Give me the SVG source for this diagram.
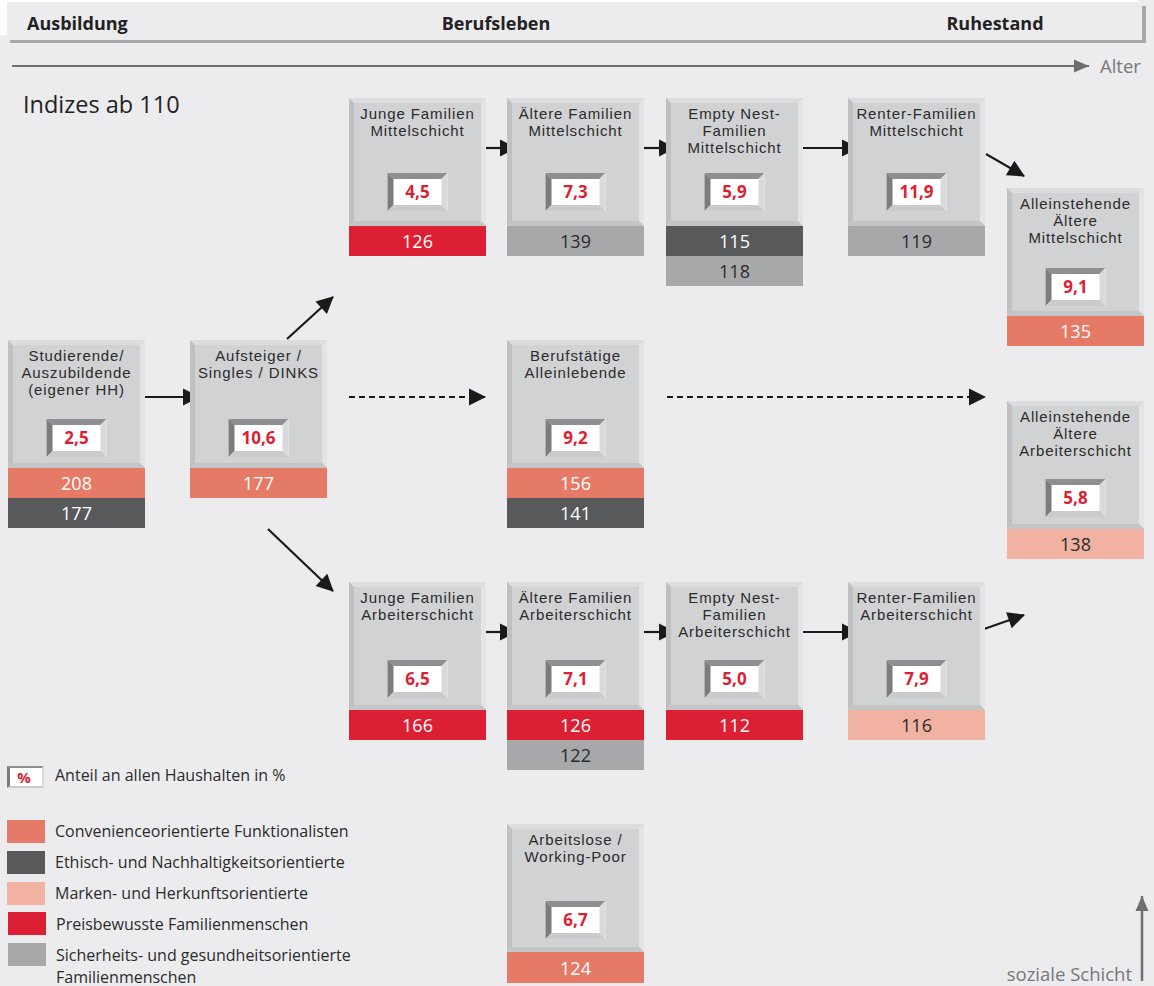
<svg xmlns="http://www.w3.org/2000/svg" xmlns:xlink="http://www.w3.org/1999/xlink" width="1154" height="986" viewBox="0 0 1154 986">
<style>
text{font-family:"Open Sans","Noto Sans","DejaVu Sans",sans-serif}
.hd{font-size:18px;font-weight:bold;fill:#222}
.t{font-family:"Liberation Sans",Arial,sans-serif;font-size:15px;letter-spacing:0.9px;fill:#2b2b2b;text-anchor:middle}
.v{font-size:17px;font-weight:bold;fill:#dc1f33;text-anchor:middle}
.b{font-size:18px;text-anchor:middle}
.bw{fill:#fff}
.bd{fill:#2b2b2b}
.lg{font-size:16px;fill:#2b2b2b}
.ax{font-size:18.5px;fill:#77787a}
.C{fill:#e57a66}.E{fill:#58595b}.M{fill:#f1b2a2}.P{fill:#dc1f33}.S{fill:#a7a8aa}
.ar{stroke:#1a1a1a;stroke-width:2.2;fill:none;marker-end:url(#ah)}
.ds{stroke-dasharray:6 4}
</style>
<defs>
<marker id="ah" markerUnits="userSpaceOnUse" markerWidth="17" markerHeight="17" refX="16" refY="8.5" orient="auto" overflow="visible"><path d="M0,0 L17,8.5 L0,17 z" fill="#1a1a1a"/></marker>
<marker id="ahg" markerUnits="userSpaceOnUse" markerWidth="15" markerHeight="13" refX="15" refY="6.5" orient="auto" overflow="visible"><path d="M0,0 L15,6.5 L0,13 z" fill="#6d6e70"/></marker>
<g id="box">
<rect width="137" height="128" fill="#d1d2d4"/>
<polygon points="0,0 137,0 132,5 5,5" fill="#dcdddf"/>
<polygon points="0,0 5,5 5,123 0,128" fill="#bfc0c2"/>
<polygon points="137,0 137,128 132,123 132,5" fill="#e3e4e6"/>
<polygon points="0,128 5,123 132,123 137,128" fill="#c4c5c7"/>
</g>
<g id="vb">
<rect width="60" height="38" fill="#fff"/>
<polygon points="0,0 60,0 54,6 6,6" fill="#8e8f91"/>
<polygon points="0,0 6,6 6,32 0,38" fill="#7b7c7e"/>
<polygon points="60,0 60,38 54,32 54,6" fill="#d9dadc"/>
<polygon points="0,38 6,32 54,32 60,38" fill="#cacbcd"/>
</g>
</defs>
<rect width="1154" height="986" fill="#ececee"/>
<g id="header">
<rect x="0" y="0" width="1138" height="2" fill="#fff"/>
<rect x="0" y="0" width="7" height="35" fill="#fff"/>
<rect x="10" y="40" width="1136" height="3" fill="#a8a8aa"/>
<rect x="1142" y="6" width="4" height="37" fill="#a8a8aa"/>
<text class="hd" x="27" y="30">Ausbildung</text>
<text class="hd" x="496" y="30" text-anchor="middle">Berufsleben</text>
<text class="hd" x="995" y="30" text-anchor="middle">Ruhestand</text>
</g>
<g id="axes">
<line x1="12" y1="66" x2="1089" y2="66" stroke="#6d6e70" stroke-width="2" marker-end="url(#ahg)"/>
<text class="ax" x="1100" y="73">Alter</text>
<line x1="1142" y1="981" x2="1142" y2="896" stroke="#6d6e70" stroke-width="2.5" marker-end="url(#ahg)"/>
<text class="ax" x="1132" y="981" text-anchor="end">soziale Schicht</text>
<text x="23" y="113" font-size="23.5" fill="#222">Indizes ab 110</text>
</g>
<g id="connectors">
<line class="ar" x1="145" y1="397" x2="199" y2="397"/>
<line class="ar" x1="287" y1="339" x2="333" y2="297"/>
<line class="ar" x1="268" y1="529" x2="333" y2="591"/>
<line class="ar ds" x1="349" y1="397" x2="485" y2="397"/>
<line class="ar ds" x1="667" y1="397" x2="985" y2="397"/>
<line class="ar" x1="486" y1="148" x2="516" y2="148"/>
<line class="ar" x1="644" y1="148" x2="675" y2="148"/>
<line class="ar" x1="803" y1="148" x2="858" y2="148"/>
<line class="ar" x1="986" y1="154" x2="1024" y2="176"/>
<line class="ar" x1="486" y1="632" x2="516" y2="632"/>
<line class="ar" x1="644" y1="632" x2="675" y2="632"/>
<line class="ar" x1="803" y1="632" x2="858" y2="632"/>
<line class="ar" x1="984" y1="629" x2="1024" y2="615"/>
</g>
<g id="n-studierende" transform="translate(8,340)">
<use href="#box"/><use href="#vb" x="38.5" y="79"/>
<text class="t" x="68.5" y="21">Studierende/</text><text class="t" x="68.5" y="38">Auszubildende</text><text class="t" x="68.5" y="55">(eigener HH)</text>
<text class="v" x="68.5" y="104">2,5</text>
<rect class="C" y="128" width="137" height="30"/><text class="b bw" x="68.5" y="150">208</text>
<rect class="E" y="158" width="137" height="30"/><text class="b bw" x="68.5" y="180">177</text>
</g>
<g id="n-aufsteiger" transform="translate(190,340)">
<use href="#box"/><use href="#vb" x="38.5" y="79"/>
<text class="t" x="68.5" y="21">Aufsteiger /</text><text class="t" x="68.5" y="38">Singles / DINKS</text>
<text class="v" x="68.5" y="104">10,6</text>
<rect class="C" y="128" width="137" height="30"/><text class="b bw" x="68.5" y="150">177</text>
</g>
<g id="n-junge-ms" transform="translate(349,98)">
<use href="#box"/><use href="#vb" x="38.5" y="75"/>
<text class="t" x="68.5" y="21">Junge Familien</text><text class="t" x="68.5" y="38">Mittelschicht</text>
<text class="v" x="68.5" y="100">4,5</text>
<rect class="P" y="128" width="137" height="30"/><text class="b bw" x="68.5" y="150">126</text>
</g>
<g id="n-aeltere-ms" transform="translate(507,98)">
<use href="#box"/><use href="#vb" x="38.5" y="75"/>
<text class="t" x="68.5" y="21">Ältere Familien</text><text class="t" x="68.5" y="38">Mittelschicht</text>
<text class="v" x="68.5" y="100">7,3</text>
<rect class="S" y="128" width="137" height="30"/><text class="b bd" x="68.5" y="150">139</text>
</g>
<g id="n-empty-ms" transform="translate(666,98)">
<use href="#box"/><use href="#vb" x="38.5" y="75"/>
<text class="t" x="68.5" y="21">Empty Nest-</text><text class="t" x="68.5" y="38">Familien</text><text class="t" x="68.5" y="55">Mittelschicht</text>
<text class="v" x="68.5" y="100">5,9</text>
<rect class="E" y="128" width="137" height="30"/><text class="b bw" x="68.5" y="150">115</text>
<rect class="S" y="158" width="137" height="30"/><text class="b bd" x="68.5" y="180">118</text>
</g>
<g id="n-renter-ms" transform="translate(848,98)">
<use href="#box"/><use href="#vb" x="38.5" y="75"/>
<text class="t" x="68.5" y="21">Renter-Familien</text><text class="t" x="68.5" y="38">Mittelschicht</text>
<text class="v" x="68.5" y="100">11,9</text>
<rect class="S" y="128" width="137" height="30"/><text class="b bd" x="68.5" y="150">119</text>
</g>
<g id="n-allein-ms" transform="translate(1007,188)">
<use href="#box"/><use href="#vb" x="38.5" y="80"/>
<text class="t" x="68.5" y="21">Alleinstehende</text><text class="t" x="68.5" y="38">Ältere</text><text class="t" x="68.5" y="55">Mittelschicht</text>
<text class="v" x="68.5" y="105">9,1</text>
<rect class="C" y="128" width="137" height="30"/><text class="b bw" x="68.5" y="150">135</text>
</g>
<g id="n-berufstaetige" transform="translate(507,340)">
<use href="#box"/><use href="#vb" x="38.5" y="79"/>
<text class="t" x="68.5" y="21">Berufstätige</text><text class="t" x="68.5" y="38">Alleinlebende</text>
<text class="v" x="68.5" y="104">9,2</text>
<rect class="C" y="128" width="137" height="30"/><text class="b bw" x="68.5" y="150">156</text>
<rect class="E" y="158" width="137" height="30"/><text class="b bw" x="68.5" y="180">141</text>
</g>
<g id="n-allein-as" transform="translate(1007,401)">
<use href="#box"/><use href="#vb" x="38.5" y="78"/>
<text class="t" x="68.5" y="21">Alleinstehende</text><text class="t" x="68.5" y="38">Ältere</text><text class="t" x="68.5" y="55">Arbeiterschicht</text>
<text class="v" x="68.5" y="103">5,8</text>
<rect class="M" y="128" width="137" height="30"/><text class="b bd" x="68.5" y="150">138</text>
</g>
<g id="n-junge-as" transform="translate(349,582)">
<use href="#box"/><use href="#vb" x="38.5" y="78"/>
<text class="t" x="68.5" y="21">Junge Familien</text><text class="t" x="68.5" y="38">Arbeiterschicht</text>
<text class="v" x="68.5" y="103">6,5</text>
<rect class="P" y="128" width="137" height="30"/><text class="b bw" x="68.5" y="150">166</text>
</g>
<g id="n-aeltere-as" transform="translate(507,582)">
<use href="#box"/><use href="#vb" x="38.5" y="78"/>
<text class="t" x="68.5" y="21">Ältere Familien</text><text class="t" x="68.5" y="38">Arbeiterschicht</text>
<text class="v" x="68.5" y="103">7,1</text>
<rect class="P" y="128" width="137" height="30"/><text class="b bw" x="68.5" y="150">126</text>
<rect class="S" y="158" width="137" height="30"/><text class="b bd" x="68.5" y="180">122</text>
</g>
<g id="n-empty-as" transform="translate(666,582)">
<use href="#box"/><use href="#vb" x="38.5" y="78"/>
<text class="t" x="68.5" y="21">Empty Nest-</text><text class="t" x="68.5" y="38">Familien</text><text class="t" x="68.5" y="55">Arbeiterschicht</text>
<text class="v" x="68.5" y="103">5,0</text>
<rect class="P" y="128" width="137" height="30"/><text class="b bw" x="68.5" y="150">112</text>
</g>
<g id="n-renter-as" transform="translate(848,582)">
<use href="#box"/><use href="#vb" x="38.5" y="78"/>
<text class="t" x="68.5" y="21">Renter-Familien</text><text class="t" x="68.5" y="38">Arbeiterschicht</text>
<text class="v" x="68.5" y="103">7,9</text>
<rect class="M" y="128" width="137" height="30"/><text class="b bd" x="68.5" y="150">116</text>
</g>
<g id="n-arbeitslose" transform="translate(507,824)">
<use href="#box"/><use href="#vb" x="38.5" y="77"/>
<text class="t" x="68.5" y="21">Arbeitslose /</text><text class="t" x="68.5" y="38">Working-Poor</text>
<text class="v" x="68.5" y="102">6,7</text>
<rect class="C" y="128" width="137" height="31"/><text class="b bw" x="68.5" y="151">124</text>
</g>
<g id="legend">
<rect x="7" y="766" width="37" height="22" fill="#fff"/>
<polygon points="7,766 44,766 42,768 10,768" fill="#8e8f91"/>
<polygon points="7,766 10,768 10,786 7,788" fill="#7b7c7e"/>
<polygon points="44,766 44,788 42,786 42,768" fill="#d9dadc"/>
<polygon points="7,788 10,786 42,786 44,788" fill="#cacbcd"/>
<text x="24" y="783" font-size="15" font-weight="bold" fill="#dc1f33" text-anchor="middle">%</text>
<text class="lg" x="55" y="781">Anteil an allen Haushalten in %</text>
<rect class="C" x="7" y="820" width="38" height="23"/><text class="lg" x="55" y="837">Convenienceorientierte Funktionalisten</text>
<rect class="E" x="7" y="851" width="38" height="23"/><text class="lg" x="55" y="868">Ethisch- und Nachhaltigkeitsorientierte</text>
<rect class="M" x="7" y="882" width="38" height="23"/><text class="lg" x="55" y="899">Marken- und Herkunftsorientierte</text>
<rect class="P" x="8" y="912" width="38" height="23"/><text class="lg" x="56" y="930">Preisbewusste Familienmenschen</text>
<rect class="S" x="8" y="943" width="38" height="23"/><text class="lg" x="56" y="961">Sicherheits- und gesundheitsorientierte</text>
<text class="lg" x="56" y="983">Familienmenschen</text>
</g>
</svg>
